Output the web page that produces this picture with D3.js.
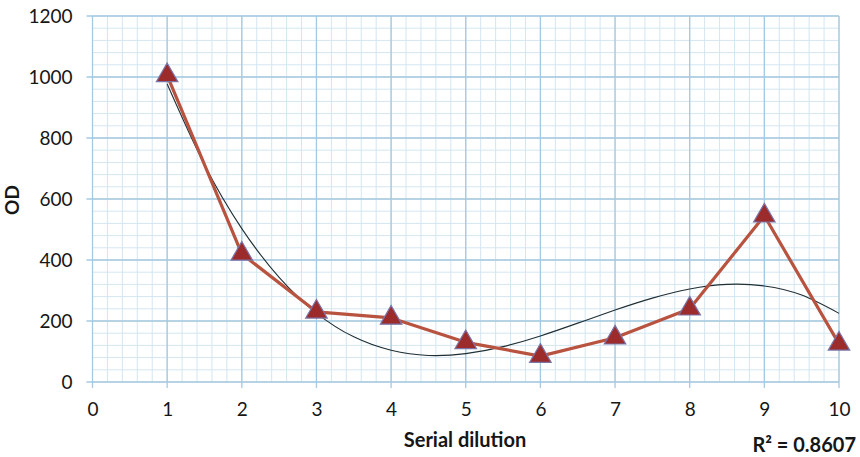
<!DOCTYPE html>
<html><head><meta charset="utf-8">
<script src="https://cdn.jsdelivr.net/npm/d3@7"></script>
<style>
html,body{margin:0;padding:0;background:#fff;}
text{font-family:Lato,"Open Sans",sans-serif;fill:#161616;}
</style></head>
<body><svg id="c" width="860" height="457"></svg>
<script>
// Data
const dilution = [1,2,3,4,5,6,7,8,9,10];
const od = [1005,420,230,210,130,85,145,240,545,125];
// Trendline (polynomial, order 3) values at half steps
const trendX = [1,1.5,2,2.5,3,3.5,4,4.5,5,5.5,6,6.5,7,7.5,8,8.5,9,9.5,10];
const trendY = [977,712,503,343,226,148,104,87,93,116,151,193,236,275,305,320,315,285,225];
const xTicks = [0,1,2,3,4,5,6,7,8,9,10];
const yTicks = [0,200,400,600,800,1000,1200];
const r2Label = "R² = 0.8607";

const svg = d3.select("#c");
const L = 92.5, R = 839, T = 16, B = 382;
const x = d3.scaleLinear().domain([0,10]).range([L,R]);
const y = d3.scaleLinear().domain([0,1200]).range([B,T]);

// minor grid
const g = svg.append("g");
g.selectAll(".mx").data(d3.range(0,10.001,0.2)).join("line")
  .attr("x1",d=>x(d)).attr("x2",d=>x(d)).attr("y1",T).attr("y2",B)
  .attr("stroke","#d3e6f1").attr("stroke-width",1);
g.selectAll(".my").data(d3.range(0,1200.1,40)).join("line")
  .attr("y1",d=>y(d)).attr("y2",d=>y(d)).attr("x1",L).attr("x2",R)
  .attr("stroke","#d3e6f1").attr("stroke-width",1);
// major grid
g.selectAll(".Mx").data(xTicks).join("line")
  .attr("x1",d=>x(d)).attr("x2",d=>x(d)).attr("y1",T).attr("y2",B+6)
  .attr("stroke","#a5c9df").attr("stroke-width",1.3);
g.selectAll(".My").data(yTicks).join("line")
  .attr("y1",d=>y(d)).attr("y2",d=>y(d)).attr("x1",L-6).attr("x2",R)
  .attr("stroke","#a5c9df").attr("stroke-width",1.3);

// axes labels via d3 axes
const xa = svg.append("g").attr("transform",`translate(0,${B})`)
  .call(d3.axisBottom(x).tickValues(xTicks).tickSize(0).tickPadding(21).tickFormat(d3.format("d")));
const ya = svg.append("g").attr("transform",`translate(${L},0)`)
  .call(d3.axisLeft(y).tickValues(yTicks).tickSize(0).tickPadding(20).tickFormat(d3.format("d")));
[xa,ya].forEach(a=>{a.select(".domain").remove(); a.selectAll("text").style("font-size","19px").attr("fill","#161616");});
ya.selectAll("text").attr("dy","0.36em");

// trendline
svg.append("path").datum(trendX.map((d,i)=>[d,trendY[i]]))
  .attr("d",d3.line().x(d=>x(d[0])).y(d=>y(d[1])).curve(d3.curveNatural))
  .attr("fill","none").attr("stroke","#1e2f35").attr("stroke-width",1.1);

// data line
svg.append("path").datum(dilution.map((d,i)=>[d,od[i]]))
  .attr("d",d3.line().x(d=>x(d[0])).y(d=>y(d[1])))
  .attr("fill","none").attr("stroke","#b8533f").attr("stroke-width",3.2).attr("stroke-linejoin","round");

// markers
const tri = d3.symbol().type(d3.symbolTriangle).size(200);
svg.selectAll(".m").data(dilution.map((d,i)=>[d,od[i]])).join("path")
  .attr("d",tri).attr("transform",d=>`translate(${x(d[0])},${y(d[1])})`)
  .attr("fill","#9c2b2b").attr("stroke","#7a74a8").attr("stroke-width",1.2);

// titles
svg.append("text").attr("transform","translate(19,200) rotate(-90)").attr("text-anchor","middle")
  .style("font-size","19px").style("font-weight","bold").text("OD");
svg.append("text").attr("x",465).attr("y",447).attr("text-anchor","middle")
  .style("font-size","20px").style("font-weight","bold").text("Serial dilution");
svg.append("text").attr("x",856).attr("y",452).attr("text-anchor","end")
  .style("font-size","20px").style("font-weight","bold").text(r2Label);
</script></body></html>
